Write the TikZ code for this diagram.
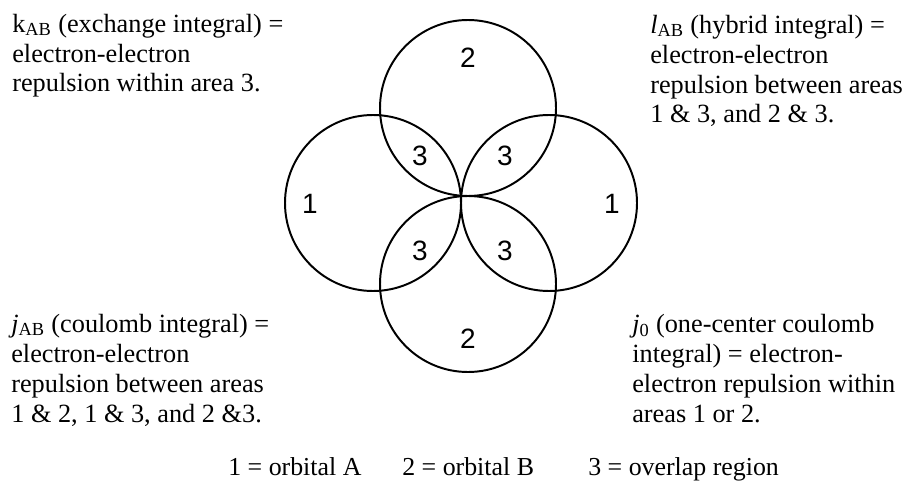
\documentclass[tikz,border=0pt]{standalone}
\usepackage{fontspec}
\setmainfont{Liberation Serif}
\newfontfamily\numfont{Liberation Sans}
\usetikzlibrary{positioning}

\begin{document}
\begin{tikzpicture}[
  x=0.025cm, y=-0.025cm,
  orbital/.style={line width=1.4pt, black},
  region/.style={font=\numfont\fontsize{19.9pt}{24pt}\selectfont, inner sep=0pt},
  note/.style={font=\fontsize{18.7pt}{21.3pt}\selectfont, align=left, anchor=base west, inner sep=0pt},
  legend/.style={font=\fontsize{18.4pt}{21.3pt}\selectfont, anchor=base west, inner sep=0pt}
]
\useasboundingbox (0,0) rectangle (905,485);

\coordinate (ctop) at (468,108);
\coordinate (cbot) at (468,284);
\coordinate (cleft) at (373,203);
\coordinate (cright) at (549,203);
\foreach \c in {ctop,cbot,cleft,cright}
  \draw[orbital] (\c) circle[radius=88];

\node[region] (btop) at (468,58) {2};
\node[region] (bbot) at (468,339) {2};
\node[region] (aleft) at (310,204) {1};
\node[region] (aright) at (612,204) {1};
\node[region] (ovul) at (420,156) {3};
\node[region] (ovur) at (505,156) {3};
\node[region] (ovll) at (420,251) {3};
\node[region] (ovlr) at (505,251) {3};

% anchor = baseline of the last line
\node[note] (kab) at (12,92) {k\textsubscript{AB} (exchange integral) =\\electron-electron\\repulsion within area 3.};
\node[note] (lab) at (650,123) {\textit{l}\textsubscript{AB} (hybrid integral) =\\electron-electron\\repulsion between areas\\1 \& 3, and 2 \& 3.};
\node[note] (jab) at (11,422) {\textit{j}\textsubscript{AB} (coulomb integral) =\\electron-electron\\repulsion between areas\\1 \& 2, 1 \& 3, and 2 \&3.};
\node[note] (jzero) at (632,422) {\textit{j}\textsubscript{0} (one-center coulomb\\integral) = electron-\\electron repulsion within\\areas 1 or 2.};

\node[legend] (leg1) at (228,475) {1 = orbital A};
\node[legend] (leg2) at (402,475) {2 = orbital B};
\node[legend] (leg3) at (588,475) {3 = overlap region};
\end{tikzpicture}
\end{document}
